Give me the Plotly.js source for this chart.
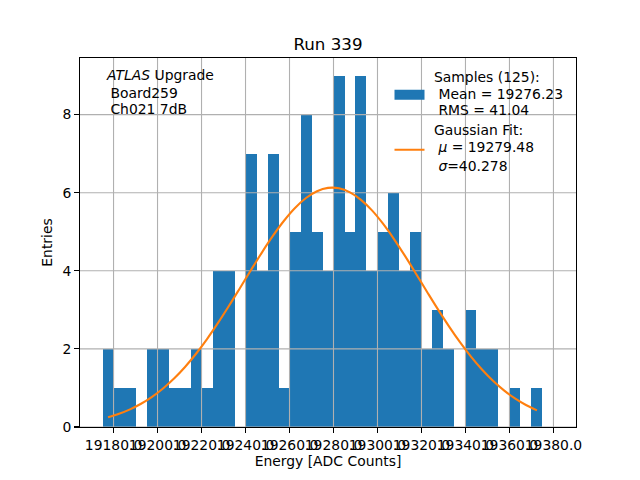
<!DOCTYPE html>
<html>
<head>
<meta charset="utf-8">
<script src="https://cdn.plot.ly/plotly-3.0.1.min.js"></script>
<style>html,body{margin:0;padding:0;background:#fff;}#chart{width:640px;height:480px;}</style>
</head>
<body>
<div id="chart"></div>
<script>
// Histogram bins (centres, width 5 ADC counts) and counts
const binCenters = [19177.5,19182.5,19187.5,19192.5,19197.5,19202.5,19207.5,19212.5,19217.5,19222.5,
  19227.5,19232.5,19237.5,19242.5,19247.5,19252.5,19257.5,19262.5,19267.5,19272.5,
  19277.5,19282.5,19287.5,19292.5,19297.5,19302.5,19307.5,19312.5,19317.5,19322.5,
  19327.5,19332.5,19337.5,19342.5,19347.5,19352.5,19357.5,19362.5,19367.5,19372.5];
const counts = [2,1,1,0,2,2,1,1,2,1,
  4,4,0,7,4,7,1,5,8,5,
  4,9,5,9,4,5,6,4,5,2,
  3,2,0,3,2,2,0,1,0,1];
// Gaussian fit curve values read at bin centres
const fitValues = [0.248,0.338,0.452,0.595,0.773,0.987,1.241,1.538,1.876,2.253,
  2.666,3.105,3.561,4.022,4.473,4.899,5.282,5.609,5.864,6.039,
  6.123,6.113,6.010,5.818,5.547,5.206,4.813,4.381,3.926,3.465,
  3.012,2.578,2.172,1.802,1.473,1.185,0.939,0.732,0.563,0.426];
const xTicks = [19180,19200,19220,19240,19260,19280,19300,19320,19340,19360,19380];
const yTicks = [0,2,4,6,8];
const xRange = [19164.75,19390.25];
const yRange = [0,9.45];

const infoLines = ["<i>ATLAS</i> Upgrade", "\u00A0Board259", "\u00A0Ch021 7dB"];
const sampleLines = ["Samples (125):", "\u00A0Mean = 19276.23", "\u00A0RMS = 41.04"];
const fitLines = ["Gaussian Fit:", "\u00A0<i>\u03bc</i> = 19279.48", "\u00A0<i>\u03c3</i>=40.278"];

// grid lines drawn above bars but below the fit curve (matplotlib zorder)
const gx = [], gy = [];
xTicks.forEach(t => { gx.push(t, t, null); gy.push(yRange[0], yRange[1], null); });
yTicks.forEach(t => { gx.push(xRange[0], xRange[1], null); gy.push(t, t, null); });

const font = {family: "DejaVu Sans", size: 13.9, color: "#000"};

const traces = [
  {type: "bar", x: binCenters, y: counts, width: 5, showlegend: false,
   marker: {color: "#1f77b4", line: {width: 0}}, hoverinfo: "skip"},
  {type: "scatter", mode: "lines", x: gx, y: gy, showlegend: false, hoverinfo: "skip",
   line: {color: "#b0b0b0", width: 1.1}},
  {type: "scatter", mode: "lines", x: binCenters, y: fitValues, showlegend: false,
   line: {color: "#ff7f0e", width: 2.1, shape: "spline"}, hoverinfo: "skip"},
  // legend handles (text is written as annotations with matplotlib line spacing)
  {type: "scatter", mode: "lines", x: [null], y: [null], name: "\u00A0", legend: "legend",
   line: {color: "#1f77b4", width: 10}, hoverinfo: "skip"},
  {type: "scatter", mode: "lines", x: [null], y: [null], name: "\u00A0", legend: "legend2",
   line: {color: "#ff7f0e", width: 2.1}, hoverinfo: "skip"}
];

function lineAnnots(lines, x, ys) {
  return lines.map((t, i) => ({xref: "paper", yref: "paper", x: x, y: ys[i],
    xanchor: "left", yanchor: "top", align: "left", showarrow: false, font: font, text: t}));
}

const legendBase = {xanchor: "left", yanchor: "top", bgcolor: "rgba(0,0,0,0)",
  borderwidth: 0, font: font};

const layout = {
  width: 640, height: 480,
  margin: {l: 80, r: 64, t: 57.6, b: 52.8, pad: 0},
  paper_bgcolor: "#fff", plot_bgcolor: "#fff",
  font: font,
  bargap: 0,
  title: {text: "Run 339", font: {family: "DejaVu Sans", size: 16.7, color: "#000"},
          x: 0.5125, xanchor: "center", y: 0.908, yanchor: "middle"},
  xaxis: {range: xRange, tickvals: xTicks, tickformat: ".1f", tickangle: 0,
          showgrid: false, zeroline: false, showline: true, mirror: true,
          linecolor: "#000", linewidth: 1.1, ticks: "outside", ticklen: 4.9,
          tickwidth: 1.1, tickcolor: "#000", tickfont: font,
          title: {text: "Energy [ADC Counts]", font: font, standoff: 4}},
  yaxis: {range: yRange, tickvals: yTicks, showgrid: false, zeroline: false,
          showline: true, mirror: true, linecolor: "#000", linewidth: 1.1,
          ticks: "outside", ticklen: 4.9, tickwidth: 1.1, tickcolor: "#000",
          tickfont: font, title: {text: "Entries", font: font, standoff: 6}},
  legend: Object.assign({x: 0.624, y: 0.9426}, legendBase),
  legend2: Object.assign({x: 0.624, y: 0.7933}, legendBase),
  annotations: [].concat(
    lineAnnots(infoLines, 0.0484, [0.98, 0.9318, 0.8885]),
    lineAnnots(sampleLines, 0.7103, [0.9756, 0.9305, 0.8864]),
    lineAnnots(fitLines, 0.7103, [0.8323, 0.7849, 0.7357])
  )
};

Plotly.newPlot("chart", traces, layout, {displayModeBar: false, staticPlot: true});
</script>
</body>
</html>
